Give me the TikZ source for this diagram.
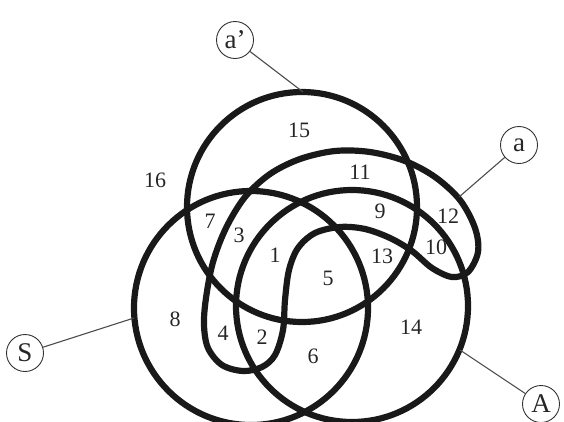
\documentclass[tikz,border=0pt]{standalone}
\usepackage{fontspec}
\setmainfont{Liberation Serif}
\usepackage{tikz}
\usetikzlibrary{positioning}

\begin{document}
\begin{tikzpicture}[x=1pt, y=-1pt,
  setline/.style={line width=6.2pt, black!90},
  tag/.style={draw, circle, line width=0.9pt, black!80, text=black!85, minimum size=37pt, inner sep=0pt, font=\fontsize{27}{27}\selectfont},
  num/.style={font=\fontsize{22}{22}\selectfont, text=black!85},
  leader/.style={line width=1.1pt, black!70}]
  \useasboundingbox (0,0) rectangle (564,421);

  % the three round sets
  \draw[setline] (302,207) circle[radius=115];  % a'
  \draw[setline] (251,308) circle[radius=117];  % S
  \draw[setline] (352,306) circle[radius=116];  % A

  % the set a, a bent band
  \draw[setline] plot[smooth cycle, tension=0.55] coordinates {
    (243,371) (222,365) (208,348) (204,325) (206,298) (213,262) (226,228)
    (245,197) (270,174) (300,159) (335,151) (370,152) (405,161) (435,177)
    (460,200) (475,228) (478,252) (468,272) (452,277) (432,268) (412,251)
    (390,238) (365,229) (340,227) (315,233) (298,248) (289,270) (285,300)
    (283,330) (275,355) (262,367)};

  % region numbers
  \node[num] (n1) at (275,255) {1};
  \node[num] (n2) at (262,337) {2};
  \node[num] (n3) at (239,235) {3};
  \node[num] (n4) at (223,333) {4};
  \node[num] (n5) at (328,278) {5};
  \node[num] (n6) at (313,356) {6};
  \node[num] (n7) at (210,221) {7};
  \node[num] (n8) at (175,319) {8};
  \node[num] (n9) at (380,211) {9};
  \node[num] (n10) at (436,247) {10};
  \node[num] (n11) at (360,172) {11};
  \node[num] (n12) at (448,216) {12};
  \node[num] (n13) at (382,256) {13};
  \node[num] (n14) at (411,327) {14};
  \node[num] (n15) at (299,130) {15};
  \node[num] (n16) at (155,180) {16};

  % set names
  \node[tag] (tap) at (235,40) {a'};
  \node[tag] (ta) at (519,145) {a};
  \node[tag] (tS) at (25,353) {S};
  \node[tag] (tA) at (541,404) {A};

  \coordinate (pap) at (303,92);
  \coordinate (pa) at (459,197);
  \coordinate (pS) at (134,318);
  \coordinate (pA) at (460,350);

  \draw[leader] (tap) -- (pap);
  \draw[leader] (ta) -- (pa);
  \draw[leader] (tS) -- (pS);
  \draw[leader] (tA) -- (pA);
\end{tikzpicture}
\end{document}
